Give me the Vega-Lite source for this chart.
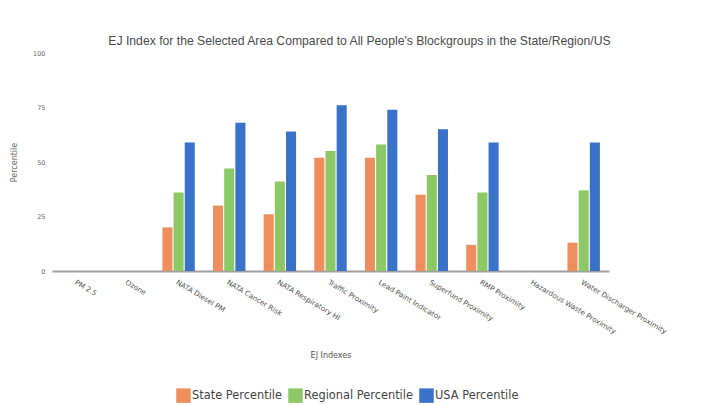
{
  "$schema": "https://vega.github.io/schema/vega-lite/v6.json",
  "autosize": "none",
  "width": 557,
  "height": 218,
  "padding": {"left": 52, "top": 53, "right": 95, "bottom": 135},
  "background": "white",
  "title": {
    "text": "EJ Index for the Selected Area Compared to All People's Blockgroups in the State/Region/US",
    "font": "Liberation Sans",
    "fontSize": 12.2,
    "fontWeight": "normal",
    "color": "#4a4a4a",
    "anchor": "middle",
    "dx": 29,
    "offset": 3
  },
  "data": {
    "values": [
      {"index": "NATA Diesel PM", "series": "State Percentile", "value": 20},
      {"index": "NATA Diesel PM", "series": "Regional Percentile", "value": 36},
      {"index": "NATA Diesel PM", "series": "USA Percentile", "value": 59},
      {"index": "NATA Cancer Risk", "series": "State Percentile", "value": 30},
      {"index": "NATA Cancer Risk", "series": "Regional Percentile", "value": 47},
      {"index": "NATA Cancer Risk", "series": "USA Percentile", "value": 68},
      {"index": "NATA Respiratory HI", "series": "State Percentile", "value": 26},
      {"index": "NATA Respiratory HI", "series": "Regional Percentile", "value": 41},
      {"index": "NATA Respiratory HI", "series": "USA Percentile", "value": 64},
      {"index": "Traffic Proximity", "series": "State Percentile", "value": 52},
      {"index": "Traffic Proximity", "series": "Regional Percentile", "value": 55},
      {"index": "Traffic Proximity", "series": "USA Percentile", "value": 76},
      {"index": "Lead Paint Indicator", "series": "State Percentile", "value": 52},
      {"index": "Lead Paint Indicator", "series": "Regional Percentile", "value": 58},
      {"index": "Lead Paint Indicator", "series": "USA Percentile", "value": 74},
      {"index": "Superfund Proximity", "series": "State Percentile", "value": 35},
      {"index": "Superfund Proximity", "series": "Regional Percentile", "value": 44},
      {"index": "Superfund Proximity", "series": "USA Percentile", "value": 65},
      {"index": "RMP Proximity", "series": "State Percentile", "value": 12},
      {"index": "RMP Proximity", "series": "Regional Percentile", "value": 36},
      {"index": "RMP Proximity", "series": "USA Percentile", "value": 59},
      {"index": "Water Discharger Proximity", "series": "State Percentile", "value": 13},
      {"index": "Water Discharger Proximity", "series": "Regional Percentile", "value": 37},
      {"index": "Water Discharger Proximity", "series": "USA Percentile", "value": 59}
    ]
  },
  "mark": {"type": "bar"},
  "encoding": {
    "x": {
      "field": "index",
      "type": "nominal",
      "scale": {
        "domain": ["PM 2.5", "Ozone", "NATA Diesel PM", "NATA Cancer Risk", "NATA Respiratory HI", "Traffic Proximity", "Lead Paint Indicator", "Superfund Proximity", "RMP Proximity", "Hazardous Waste Proximity", "Water Discharger Proximity"],
        "paddingInner": 0.36,
        "paddingOuter": 0.18
      },
      "axis": {
        "title": "EJ Indexes",
        "titleFont": "DejaVu Sans",
        "titleFontSize": 8,
        "titleFontWeight": "normal",
        "titleColor": "#555555",
        "titleY": 84,
        "titleBaseline": "middle",
        "labelAngle": 31,
        "labelAlign": "left",
        "labelBaseline": "top",
        "labelFont": "DejaVu Sans",
        "labelFontSize": 7.2,
        "labelColor": "#555555",
        "labelPadding": 7,
        "ticks": false,
        "domainColor": "#a0a0a0",
        "domainWidth": 2
      }
    },
    "xOffset": {
      "field": "series",
      "type": "nominal",
      "sort": ["State Percentile", "Regional Percentile", "USA Percentile"],
      "scale": {"paddingInner": 0.1, "paddingOuter": 0}
    },
    "y": {
      "field": "value",
      "type": "quantitative",
      "scale": {"domain": [0, 100]},
      "axis": {
        "title": "Percentile",
        "titleFont": "DejaVu Sans",
        "titleFontSize": 8,
        "titleFontWeight": "normal",
        "titleColor": "#666666",
        "titleX": -34,
        "values": [0, 25, 50, 75, 100],
        "labelFont": "DejaVu Sans",
        "labelFontSize": 6.5,
        "labelColor": "#666666",
        "labelPadding": 7,
        "ticks": false,
        "domain": false,
        "grid": false
      }
    },
    "color": {
      "field": "series",
      "type": "nominal",
      "sort": ["State Percentile", "Regional Percentile", "USA Percentile"],
      "scale": {
        "domain": ["State Percentile", "Regional Percentile", "USA Percentile"],
        "range": ["#EE8D5E", "#8CC866", "#3B72C9"]
      },
      "legend": {
        "title": null,
        "orient": "none",
        "direction": "horizontal",
        "legendX": 124,
        "legendY": 335,
        "symbolType": "square",
        "symbolSize": 210,
        "symbolStrokeWidth": 0,
        "symbolOpacity": 1,
        "labelFont": "DejaVu Sans",
        "labelFontSize": 11.4,
        "labelColor": "#444444",
        "labelOffset": 1,
        "columnPadding": 6
      }
    }
  },
  "config": {"view": {"stroke": null}}
}
